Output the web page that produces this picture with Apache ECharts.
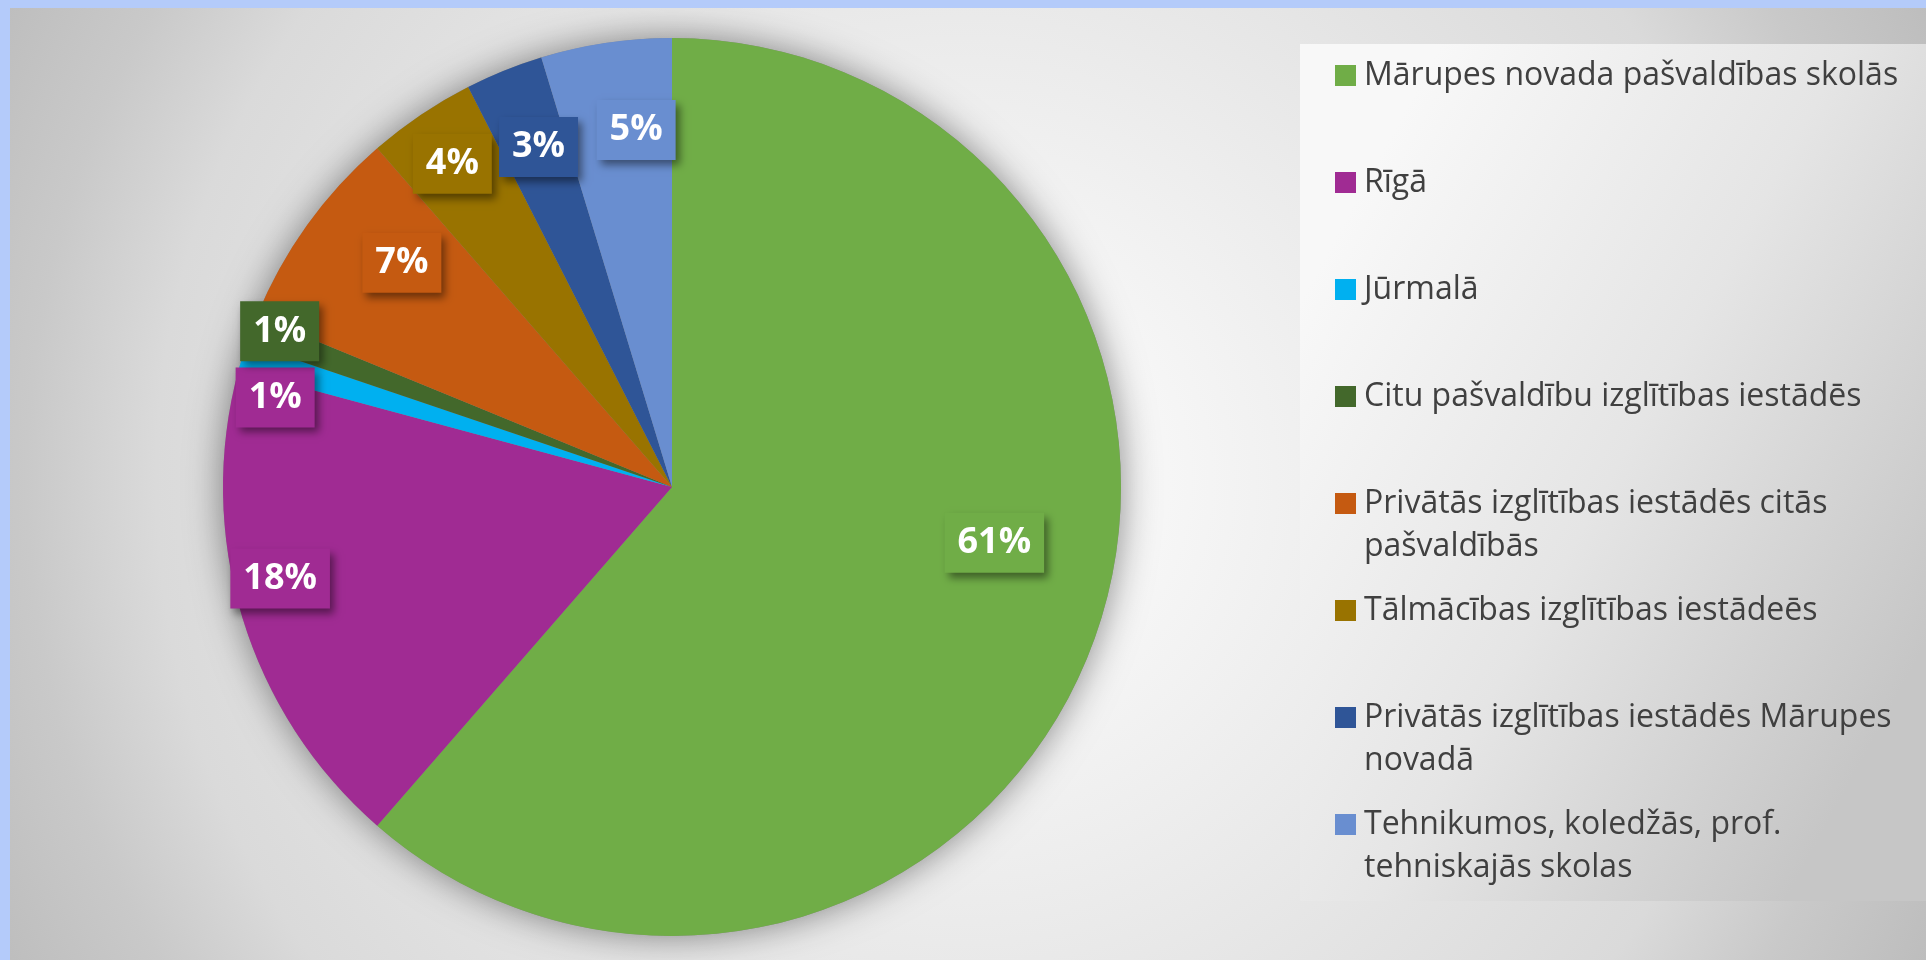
<!DOCTYPE html>
<html>
<head>
<meta charset="utf-8">
<script src="https://cdn.jsdelivr.net/npm/echarts@6/dist/echarts.min.js"></script>
<style>
  html, body { margin: 0; padding: 0; }
  #chart { width: 1926px; height: 960px; }
</style>
</head>
<body>
<div id="chart"></div>
<script>
// categories (legend text, wrapped as in the picture)
var names = [
  'Mārupes novada pašvaldības skolās',
  'Rīgā',
  'Jūrmalā',
  'Citu pašvaldību izglītības iestādēs',
  'Privātās izglītības iestādēs citās\npašvaldībās',
  'Tālmācības izglītības iestādeēs',
  'Privātās izglītības iestādēs Mārupes\nnovadā',
  'Tehnikumos, koledžās, prof.\ntehniskajās skolas'
];
// share of each slice, %
var shares = [61.4, 17.8, 1.0, 1.0, 7.4, 3.9, 2.8, 4.7];

var colors = ['#70AD47', '#A02B93', '#00B0F0', '#43682B', '#C55A11', '#997300', '#2F5597', '#698ED0'];
// label box fill (the Jūrmalā label sits on the Rīgā slice)
var labelFill = ['#70AD47', '#A02B93', '#A02B93', '#43682B', '#C55A11', '#997300', '#2F5597', '#698ED0'];
// small nudges so labels sit where Excel put them
var labelShift = [[-27, -75], [-35, -17], [-40, 19], [-43, -25], [33, -7], [-11, -14], [6, 6], [19, 12]];

var chartDom = document.getElementById('chart');
var myChart = echarts.init(chartDom);

var cx = 672, cy = 487, R = 449;
var total = shares.reduce(function (a, b) { return a + b; }, 0);

var mainData = names.map(function (n, i) {
  return { name: n, value: shares[i], itemStyle: { color: colors[i] } };
});
var labelData = names.map(function (n, i) {
  return { name: n, value: shares[i], label: { backgroundColor: labelFill[i] } };
});

var legends = names.map(function (n, i) {
  var twoLines = n.indexOf('\n') >= 0;
  var c = 75.5 + 107 * i;
  return {
    data: [n],
    orient: 'vertical',
    left: 1335,
    top: c - (twoLines ? 1.5 : 0.5) * 43,
    icon: 'rect',
    itemWidth: 21,
    itemHeight: 21,
    itemGap: 0,
    padding: 0,
    selectedMode: false,
    itemStyle: { borderWidth: 0 },
    // a blank first line keeps the square level with the first text line
    formatter: function (name) { return twoLines ? ' \n' + name : name; },
    textStyle: {
      fontFamily: 'Open Sans',
      fontSize: 32,
      lineHeight: 43,
      color: '#404040',
      padding: [0, 0, 0, 3]
    }
  };
});

var option = {
  animation: false,
  graphic: [
    {
      type: 'rect', z: -10,
      shape: { x: 0, y: 0, width: 1926, height: 960 },
      style: {
        fill: {
          type: 'radial', x: 0.5, y: 0.5, r: 1.121,
          colorStops: [
            { offset: 0, color: '#fbfbfb' },
            { offset: 0.19, color: '#f6f6f6' },
            { offset: 0.51, color: '#e6e6e6' },
            { offset: 0.75, color: '#dadada' },
            { offset: 0.87, color: '#c9c9c9' },
            { offset: 1, color: '#bdbdbd' }
          ]
        }
      }
    },
    {
      type: 'rect', z: -9,
      shape: { x: 1300, y: 44, width: 626, height: 857 },
      style: {
        fill: {
          type: 'linear', x: 0, y: 0.3, x2: 1, y2: 0.7,
          colorStops: [
            { offset: 0, color: '#f8f8f8' },
            { offset: 0.5, color: '#e5e5e5' },
            { offset: 1, color: '#c6c6c6' }
          ]
        }
      }
    },
    { type: 'rect', z: 100, shape: { x: 0, y: 0, width: 1926, height: 8 }, style: { fill: '#B4CBFA' } },
    { type: 'rect', z: 100, shape: { x: 0, y: 0, width: 10, height: 960 }, style: { fill: '#B4CBFA' } }
  ],
  legend: legends,
  series: [
    {
      // soft shadow under the pie
      name: 'shadow',
      type: 'pie',
      silent: true,
      center: [cx, cy],
      radius: R,
      label: { show: false },
      labelLine: { show: false },
      itemStyle: { color: '#8a8a8a', shadowBlur: 36, shadowColor: 'rgba(0,0,0,0.45)' },
      data: [{ name: '', value: total }]
    },
    {
      name: 'skolas',
      type: 'pie',
      silent: true,
      center: [cx, cy],
      radius: R,
      startAngle: 90,
      clockwise: true,
      label: { show: false },
      labelLine: { show: false },
      itemStyle: { borderWidth: 0 },
      data: mainData
    },
    {
      // label carrier
      name: 'labels',
      type: 'pie',
      silent: true,
      center: [cx, cy],
      radius: [291, R],
      startAngle: 90,
      clockwise: true,
      percentPrecision: 0,
      avoidLabelOverlap: false,
      itemStyle: { color: 'rgba(0,0,0,0)', borderWidth: 0 },
      labelLine: { show: false },
      label: {
        show: true,
        position: 'inside',
        formatter: '{d}%',
        overflow: 'none',
        color: '#ffffff',
        fontFamily: 'Open Sans',
        fontWeight: 'bold',
        fontSize: 36,
        lineHeight: 44,
        padding: [8, 13, 8, 13],
        shadowColor: 'rgba(0,0,0,0.45)',
        shadowBlur: 8,
        shadowOffsetX: 4,
        shadowOffsetY: 5
      },
      labelLayout: function (p) {
        var s = labelShift[p.dataIndex];
        return { dx: s[0], dy: s[1] };
      },
      data: labelData
    }
  ]
};

option && myChart.setOption(option);
</script>
</body>
</html>
